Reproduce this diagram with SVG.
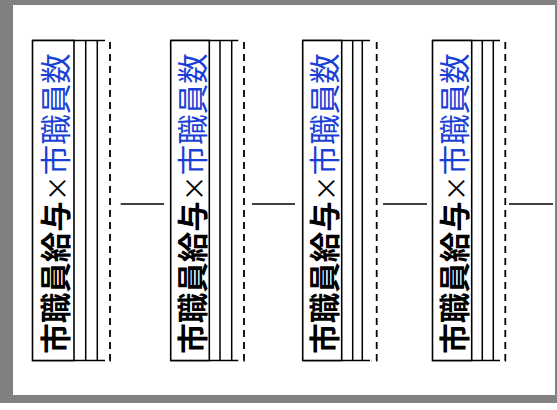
<svg xmlns="http://www.w3.org/2000/svg" width="557" height="410" viewBox="0 0 557 410">
<style>
.box{fill:#fff;stroke:#000;stroke-width:1.6}
.ln{fill:none;stroke:#000;stroke-width:1.5}
.dash{fill:none;stroke:#000;stroke-width:1.8;stroke-dasharray:7,5}
.lbl{font-family:"Noto Sans CJK JP","Liberation Sans",sans-serif;font-size:30.5px;text-anchor:middle}
.b{font-weight:bold;fill:#000}
.x{fill:#000;font-size:26px}
.u{fill:#1a3fd6}
.conn{stroke:#000;stroke-width:1.5}
</style>
<rect x="0" y="0" width="557" height="403" fill="#808080"/>
<rect x="13" y="5" width="542" height="390" fill="#fff"/>
<g id="node1">
<path class="ln" d="M32.5 40.5H105M32.5 360.5H105M85.7 40.5V360.5M97.3 40.5V360.5"/>
<rect class="box" x="32.5" y="40.5" width="41.5" height="320"/>
<path class="dash" d="M110 42V360.5H105"/>
<text class="lbl" transform="translate(67,203.5) rotate(-90)"><tspan class="b">市職員給与</tspan><tspan class="x">×</tspan><tspan class="u">市職員数</tspan></text>
</g>
<g id="node2">
<path class="ln" d="M170.7 40.5H238.3M170.7 360.5H238.3M220 40.5V360.5M231.7 40.5V360.5"/>
<rect class="box" x="170.7" y="40.5" width="38.6" height="320"/>
<path class="dash" d="M244 42V360.5H239"/>
<text class="lbl" transform="translate(204,203.5) rotate(-90)"><tspan class="b">市職員給与</tspan><tspan class="x">×</tspan><tspan class="u">市職員数</tspan></text>
</g>
<g id="node3">
<path class="ln" d="M302.7 40.5H370M302.7 360.5H370M352.7 40.5V360.5M362.3 40.5V360.5"/>
<rect class="box" x="302.7" y="40.5" width="39" height="320"/>
<path class="dash" d="M376.7 42V360.5H371"/>
<text class="lbl" transform="translate(336,203.5) rotate(-90)"><tspan class="b">市職員給与</tspan><tspan class="x">×</tspan><tspan class="u">市職員数</tspan></text>
</g>
<g id="node4">
<path class="ln" d="M432.5 40.5H500M432.5 360.5H500M482.3 40.5V360.5M493.3 40.5V360.5"/>
<rect class="box" x="432.5" y="40.5" width="39.2" height="320"/>
<path class="dash" d="M505.3 42V360.5H500"/>
<text class="lbl" transform="translate(466,203.5) rotate(-90)"><tspan class="b">市職員給与</tspan><tspan class="x">×</tspan><tspan class="u">市職員数</tspan></text>
</g>
<g id="connectors">
<line class="conn" x1="120.7" y1="204" x2="164" y2="204"/>
<line class="conn" x1="252" y1="204" x2="295" y2="204"/>
<line class="conn" x1="383" y1="204" x2="427" y2="204"/>
<line class="conn" x1="509" y1="204" x2="553" y2="204"/>
</g>
</svg>
